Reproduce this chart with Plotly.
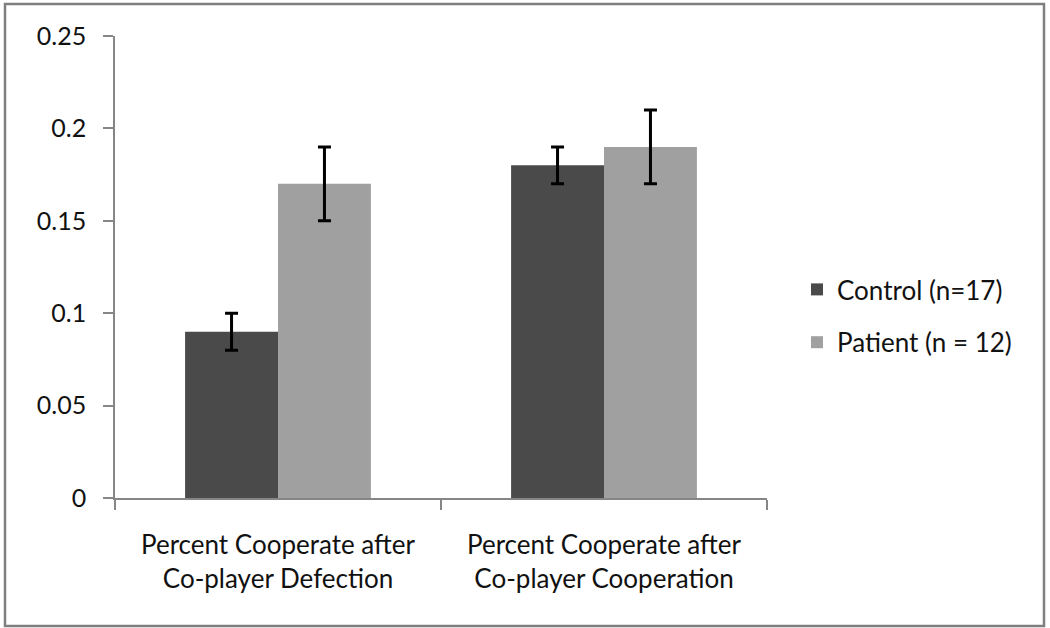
import plotly.graph_objects as go

categories = ["Percent Cooperate after<br>Co-player Defection",
              "Percent Cooperate after<br>Co-player Cooperation"]
control_vals = [0.09, 0.18]
control_err = [0.01, 0.01]
patient_vals = [0.17, 0.19]
patient_err = [0.02, 0.02]
series_names = ["Control (n=17)", "Patient (n = 12)"]
ytick_vals = [0, 0.05, 0.1, 0.15, 0.2, 0.25]
ytick_text = ["0", "0.05", "0.1", "0.15", "0.2", "0.25"]

W, H = 1050, 628
ML, MR, MT, MB = 115, 283, 36, 130
FONT = "Lato, Open Sans, sans-serif"
TXT = "#111111"
AX = "#868686"

fig = go.Figure()
fig.add_trace(go.Bar(
    x=categories, y=control_vals, name=series_names[0],
    marker=dict(color="#4a4a4a", line=dict(width=0)),
    error_y=dict(type="data", array=control_err, color="black",
                 thickness=3, width=6.5),
    legendgroup="a",
))
fig.add_trace(go.Bar(
    x=categories, y=patient_vals, name=series_names[1],
    marker=dict(color="#a0a0a0", line=dict(width=0)),
    error_y=dict(type="data", array=patient_err, color="black",
                 thickness=3, width=6.5),
    legendgroup="b",
))

pw = W - ML - MR
ph = H - MT - MB
# outer frame
fig.add_shape(type="rect", xref="paper", yref="paper",
              x0=(5 - ML) / pw, x1=(1044 - ML) / pw,
              y0=(H - MB - 626) / ph, y1=(H - MB - 4) / ph,
              line=dict(color="#7f7f7f", width=2.5), layer="above")

fig.update_layout(
    width=W, height=H,
    margin=dict(l=ML, r=MR, t=MT, b=MB, pad=0, autoexpand=False),
    paper_bgcolor="white", plot_bgcolor="white",
    barmode="group", bargap=0.43, bargroupgap=0,
    font=dict(family=FONT, size=26, color=TXT),
    showlegend=True,
    legend=dict(x=(797 - ML) / pw, y=(H - MB - 316) / ph,
                xanchor="left", yanchor="middle",
                tracegroupgap=16, font=dict(size=26, family=FONT, color=TXT),
                bgcolor="rgba(0,0,0,0)"),
    xaxis=dict(showline=True, linecolor=AX, linewidth=1.5,
               ticks="outside", tickson="boundaries", ticklen=10,
               tickcolor=AX, tickwidth=1.5, showgrid=False,
               ticklabelstandoff=23,
               tickfont=dict(size=26, family=FONT, color=TXT)),
    yaxis=dict(range=[0, 0.25], showline=True, linecolor=AX,
               linewidth=1.5, ticks="outside", ticklen=10,
               tickcolor=AX, tickwidth=1.5, showgrid=False,
               zeroline=False, tickvals=ytick_vals, ticktext=ytick_text,
               ticklabelstandoff=12,
               tickfont=dict(size=25, family=FONT, color=TXT)),
)

fig.write_html("out.html",
               config={"displayModeBar": False},
               post_script="document.body.style.margin='0';"
                           "document.body.style.overflow='hidden';")
